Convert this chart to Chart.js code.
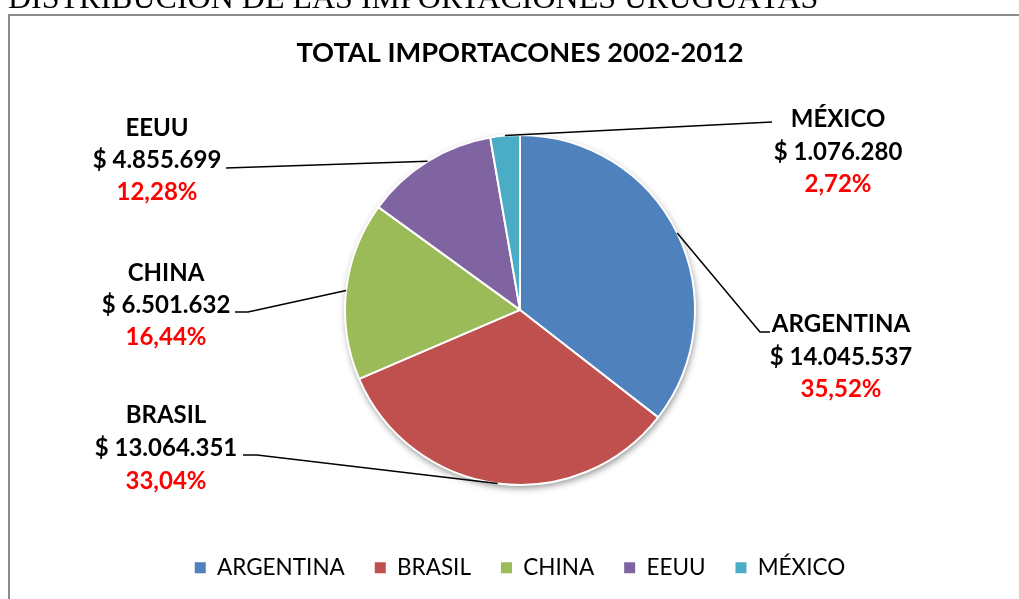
<!DOCTYPE html>
<html>
<head>
<meta charset="utf-8">
<script src="https://cdn.jsdelivr.net/npm/chart.js@4.4.1/dist/chart.umd.min.js"></script>
<style>
html,body{margin:0;padding:0;background:#ffffff;overflow:hidden}
#wrap{position:absolute;left:0;top:0;width:1019px;height:599px}
</style>
</head>
<body>
<div id="wrap"><canvas id="c"></canvas></div>
<script>
// ---- data ----
const pageHeading = 'DISTRIBUCIÓN DE LAS IMPORTACIONES URUGUAYAS';
const chartTitle = 'TOTAL IMPORTACONES 2002-2012';
const categories = ['ARGENTINA', 'BRASIL', 'CHINA', 'EEUU', 'MÉXICO'];
const importValues = [14045537, 13064351, 6501632, 4855699, 1076280];

// ---- styles / layout ----
const sliceColors = ['#4F81BD', '#C0504D', '#9BBB59', '#8064A2', '#4BACC6'];
const FONT = 'Lato, "Open Sans", sans-serif';

const total = importValues.reduce((a, b) => a + b, 0);
function fmtAmount(v) { return '$ ' + String(v).replace(/\B(?=(\d{3})+(?!\d))/g, '.'); }
function fmtPct(v) { return (v / total * 100).toFixed(2).replace('.', ',') + '%'; }

// label anchor (text centre x, baselines) and leader-line bend points
const labelLayout = [
  { x: 841, base: [332, 365, 397], path: [[760, 332], [770, 332]] }, // ARGENTINA
  { x: 166, base: [423, 456, 489], path: [[257, 455], [243, 455]] }, // BRASIL
  { x: 166, base: [281, 313, 345], path: [[248, 312], [235, 312]] }, // CHINA
  { x: 157, base: [136, 168, 200], path: [[226, 168]] },             // EEUU
  { x: 838, base: [127, 160, 192], path: [[772, 122]] }              // MÉXICO
];

const framePlugin = {
  id: 'framePlugin',
  beforeDraw(chart) {
    const ctx = chart.ctx;
    ctx.save();
    ctx.fillStyle = '#000';
    ctx.font = '32px "Liberation Serif", "Times New Roman", serif';
    ctx.textAlign = 'left';
    ctx.textBaseline = 'alphabetic';
    ctx.fillText(pageHeading, 8, 8);
    ctx.strokeStyle = '#8c8c8c';
    ctx.lineWidth = 2;
    ctx.beginPath();
    ctx.moveTo(1019, 15);
    ctx.lineTo(9, 15);
    ctx.lineTo(9, 599);
    ctx.stroke();
    ctx.restore();
  }
};

const shadowPlugin = {
  id: 'shadowPlugin',
  beforeDatasetsDraw(chart) {
    const arc = chart.getDatasetMeta(0).data[0];
    if (!arc) return;
    const ctx = chart.ctx;
    ctx.save();
    ctx.shadowColor = 'rgba(0,0,0,0.45)';
    ctx.shadowBlur = 7;
    ctx.shadowOffsetX = 1;
    ctx.shadowOffsetY = 3;
    ctx.fillStyle = '#ffffff';
    ctx.beginPath();
    ctx.arc(arc.x, arc.y, arc.outerRadius, 0, Math.PI * 2);
    ctx.fill();
    ctx.restore();
  }
};

const labelPlugin = {
  id: 'labelPlugin',
  afterDatasetsDraw(chart) {
    const ctx = chart.ctx;
    const meta = chart.getDatasetMeta(0);
    ctx.save();
    meta.data.forEach((arc, i) => {
      const L = labelLayout[i];
      const mid = (arc.startAngle + arc.endAngle) / 2;
      const ex = arc.x + Math.cos(mid) * arc.outerRadius;
      const ey = arc.y + Math.sin(mid) * arc.outerRadius;
      ctx.strokeStyle = '#000';
      ctx.lineWidth = 1.5;
      ctx.beginPath();
      ctx.moveTo(ex, ey);
      L.path.forEach(p => ctx.lineTo(p[0], p[1]));
      ctx.stroke();

      ctx.textAlign = 'center';
      ctx.textBaseline = 'alphabetic';
      ctx.font = 'bold 24px ' + FONT;
      ctx.fillStyle = '#000';
      ctx.fillText(categories[i], L.x, L.base[0]);
      ctx.fillText(fmtAmount(importValues[i]), L.x, L.base[1]);
      ctx.fillStyle = '#FF0000';
      ctx.fillText(fmtPct(importValues[i]), L.x, L.base[2]);
    });
    ctx.restore();
  }
};

new Chart(document.getElementById('c'), {
  type: 'pie',
  data: {
    labels: categories,
    datasets: [{
      data: importValues,
      backgroundColor: sliceColors,
      borderColor: '#ffffff',
      borderWidth: 2,
      radius: 175
    }]
  },
  options: {
    responsive: true,
    maintainAspectRatio: false,
    devicePixelRatio: 1,
    animation: false,
    layout: { padding: { top: 20, bottom: 10, left: 21, right: 0 } },
    plugins: {
      title: {
        display: true,
        text: chartTitle,
        color: '#000',
        font: { family: FONT, size: 27.2, weight: 'bold', lineHeight: 1.2 },
        padding: { top: 16.7, bottom: 24.0 }
      },
      legend: {
        display: true,
        position: 'bottom',
        labels: {
          color: '#000',
          font: { family: FONT, size: 22.5 },
          boxWidth: 11,
          boxHeight: 11,
          padding: 30,
          generateLabels(chart) {
            const items = Chart.overrides.pie.plugins.legend.labels.generateLabels(chart);
            items.forEach(it => { it.lineWidth = 0; it.strokeStyle = 'rgba(0,0,0,0)'; });
            return items;
          }
        }
      },
      tooltip: { enabled: false }
    }
  },
  plugins: [framePlugin, shadowPlugin, labelPlugin]
});
</script>
</body>
</html>
